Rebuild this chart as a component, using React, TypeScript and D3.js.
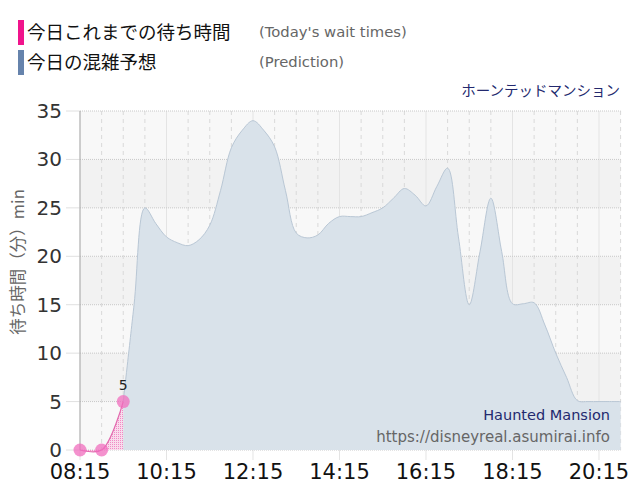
import React, { useRef, useEffect } from 'react';
import * as d3 from 'd3';

// today's actual wait times
const actualTimes = ['08:15', '08:45', '09:15'];
const actualValues = [0, 0, 5];

// prediction, every 15 minutes
const predictTimes = [
  '09:15', '09:30', '09:45',
  '10:00', '10:15', '10:30', '10:45',
  '11:00', '11:15', '11:30', '11:45',
  '12:00', '12:15', '12:30', '12:45',
  '13:00', '13:15', '13:30', '13:45',
  '14:00', '14:15', '14:30', '14:45',
  '15:00', '15:15', '15:30', '15:45',
  '16:00', '16:15', '16:30', '16:45',
  '17:00', '17:15', '17:30', '17:45',
  '18:00', '18:15', '18:30', '18:45',
  '19:00', '19:15', '19:30', '19:45',
  '20:00', '20:15', '20:30', '20:45',
];
const predictValues = [
  5, 15, 25,
  23.4, 22, 21.4, 21.1,
  21.7, 23.2, 26.8, 31.2,
  33, 34, 33, 31.3,
  26.8, 22.4, 21.9, 22.2,
  23.4, 24.1, 24.1, 24.1,
  24.5, 25, 26, 27,
  26.3, 25.2, 27.2, 29.1,
  22, 15, 20.5, 26,
  20.5, 15.1, 15.1, 15.2,
  12.9, 10, 7.5, 5.1,
  5, 5, 5, 5,
];

const xTickLabels = ['08:15', '10:15', '12:15', '14:15', '16:15', '18:15', '20:15'];
const yTicks = [0, 5, 10, 15, 20, 25, 30, 35];

const toMin = (t: string) => {
  const [h, m] = t.split(':').map(Number);
  return h * 60 + m;
};

const WIDTH = 640;
const HEIGHT = 500;
const margin = { top: 111, right: 19.4, bottom: 50, left: 80 };

type Pt = { m: number; v: number };

function WaitChart() {
  const svgRef = useRef<SVGSVGElement>(null);

  useEffect(() => {
    if (!svgRef.current) return;
    const svg = d3.select(svgRef.current);
    svg.selectAll('*').remove();

    const x = d3.scaleLinear()
      .domain([toMin('08:15'), toMin('20:45')])
      .range([margin.left, WIDTH - margin.right]);
    const y = d3.scaleLinear()
      .domain([0, 35])
      .range([HEIGHT - margin.bottom, margin.top]);

    const x0 = x.range()[0], x1 = x.range()[1];
    const yb = y(0), yt = y(35);
    const curve = d3.curveCatmullRom.alpha(0.5);

    // pink dot pattern for the actual area
    const defs = svg.append('defs');
    const pat = defs.append('pattern')
      .attr('id', 'pinkdots')
      .attr('width', 2).attr('height', 2)
      .attr('patternUnits', 'userSpaceOnUse');
    pat.append('rect').attr('width', 2).attr('height', 2).attr('fill', '#f9dcec');
    pat.append('rect').attr('width', 1).attr('height', 1).attr('fill', '#f08cc6');

    // alternating bands
    svg.append('g')
      .selectAll('rect')
      .data(d3.range(0, 35, 5))
      .enter()
      .append('rect')
      .attr('x', x0)
      .attr('width', x1 - x0)
      .attr('y', d => y(d + 5))
      .attr('height', d => y(d) - y(d + 5))
      .attr('fill', d => (d / 5) % 2 === 0 ? '#f8f8f8' : '#f2f2f2');

    // vertical grid, every 30 minutes
    const gridMins = d3.range(toMin('08:15'), toMin('20:45') + 1, 30);
    const majors = xTickLabels.map(toMin);
    svg.append('g')
      .selectAll('line')
      .data(gridMins)
      .enter()
      .append('line')
      .attr('x1', d => x(d)).attr('x2', d => x(d))
      .attr('y1', yt)
      .attr('y2', d => majors.includes(d) ? yb + 10 : yb)
      .attr('stroke', d => majors.includes(d) ? '#e4e4e4' : '#d9d9d9')
      .attr('stroke-dasharray', d => majors.includes(d) ? null : '4,4');

    // horizontal dotted grid + y ticks
    const hg = svg.append('g');
    hg.selectAll('line.grid')
      .data(yTicks)
      .enter()
      .append('line')
      .attr('class', 'grid')
      .attr('x1', x0).attr('x2', x1)
      .attr('y1', d => y(d)).attr('y2', d => y(d))
      .attr('stroke', '#c8c8c8')
      .attr('stroke-dasharray', '1,1');
    hg.selectAll('line.tick')
      .data(yTicks)
      .enter()
      .append('line')
      .attr('class', 'tick')
      .attr('x1', x0 - 14).attr('x2', x0)
      .attr('y1', d => y(d)).attr('y2', d => y(d))
      .attr('stroke', '#e0e0e0');
    hg.selectAll('text')
      .data(yTicks)
      .enter()
      .append('text')
      .attr('x', x0 - 18)
      .attr('y', d => y(d) + 7)
      .attr('text-anchor', 'end')
      .attr('font-family', 'DejaVu Sans, sans-serif')
      .attr('font-size', 20)
      .attr('fill', '#333')
      .text(d => d);

    // left axis line
    svg.append('line')
      .attr('x1', x0).attr('x2', x0)
      .attr('y1', yt).attr('y2', yb)
      .attr('stroke', '#aaa');

    // actual area (under prediction)
    const actual: Pt[] = actualTimes.map((t, i) => ({ m: toMin(t), v: actualValues[i] }));
    svg.append('path')
      .datum(actual)
      .attr('d', d3.area<Pt>()
        .x(d => x(d.m)).y0(yb).y1(d => y(d.v))
        .curve(curve))
      .attr('fill', 'url(#pinkdots)');

    // prediction area
    const pred: Pt[] = predictTimes.map((t, i) => ({ m: toMin(t), v: predictValues[i] }));
    svg.append('path')
      .datum(pred)
      .attr('d', d3.area<Pt>()
        .x(d => x(d.m)).y0(yb).y1(d => y(d.v))
        .curve(curve))
      .attr('fill', '#d9e2ea');
    svg.append('path')
      .datum(pred)
      .attr('d', d3.line<Pt>()
        .x(d => x(d.m)).y(d => y(d.v))
        .curve(curve))
      .attr('fill', 'none')
      .attr('stroke', '#b9c7d5')
      .attr('stroke-width', 1);

    // actual line + points
    svg.append('path')
      .datum(actual)
      .attr('d', d3.line<Pt>()
        .x(d => x(d.m)).y(d => y(d.v))
        .curve(curve))
      .attr('fill', 'none')
      .attr('stroke', '#e26aae')
      .attr('stroke-width', 1.2);
    svg.append('g')
      .selectAll('circle')
      .data(actual)
      .enter()
      .append('circle')
      .attr('cx', d => x(d.m))
      .attr('cy', d => y(d.v))
      .attr('r', 6.5)
      .attr('fill', 'rgba(240,110,190,0.75)');
    const last = actual[actual.length - 1];
    svg.append('text')
      .attr('x', x(last.m))
      .attr('y', y(last.v) - 12)
      .attr('text-anchor', 'middle')
      .attr('font-family', 'DejaVu Sans, sans-serif')
      .attr('font-size', 14)
      .attr('fill', '#222')
      .text(last.v);

    // x tick labels
    svg.append('g')
      .selectAll('text')
      .data(xTickLabels)
      .enter()
      .append('text')
      .attr('x', d => x(toMin(d)))
      .attr('y', 479)
      .attr('text-anchor', 'middle')
      .attr('font-family', 'DejaVu Sans, sans-serif')
      .attr('font-size', 21)
      .attr('fill', '#111')
      .text(d => d);

    // y axis title
    svg.append('text')
      .attr('transform', `translate(24,262) rotate(-90)`)
      .attr('text-anchor', 'middle')
      .attr('font-family', 'Noto Sans CJK JP, sans-serif')
      .attr('font-size', 16.5)
      .attr('fill', '#666')
      .text('待ち時間（分）min');

    // legend
    const legend = [
      { color: '#f0148c', ja: '今日これまでの待ち時間', en: "(Today's wait times)" },
      { color: '#6683ac', ja: '今日の混雑予想', en: '(Prediction)' },
    ];
    legend.forEach((l, i) => {
      const top = 20 + i * 30;
      svg.append('rect')
        .attr('x', 18).attr('y', top)
        .attr('width', 6).attr('height', 25)
        .attr('fill', l.color);
      svg.append('text')
        .attr('x', 27).attr('y', top + 19)
        .attr('font-family', 'Noto Sans CJK JP, sans-serif')
        .attr('font-size', 18.5)
        .attr('fill', '#111')
        .text(l.ja);
      svg.append('text')
        .attr('x', 259).attr('y', top + 17)
        .attr('font-family', 'DejaVu Sans, sans-serif')
        .attr('font-size', 14.8)
        .attr('fill', '#666')
        .text(l.en);
    });

    svg.append('text')
      .attr('x', 620).attr('y', 96)
      .attr('text-anchor', 'end')
      .attr('font-family', 'Noto Sans CJK JP, sans-serif')
      .attr('font-size', 14.5)
      .attr('fill', '#23296e')
      .text('ホーンテッドマンション');

    svg.append('text')
      .attr('x', 610).attr('y', 420)
      .attr('text-anchor', 'end')
      .attr('font-family', 'DejaVu Sans, sans-serif')
      .attr('font-size', 14.5)
      .attr('fill', '#23296e')
      .text('Haunted Mansion');
    svg.append('text')
      .attr('x', 610).attr('y', 442)
      .attr('text-anchor', 'end')
      .attr('font-family', 'DejaVu Sans, sans-serif')
      .attr('font-size', 15)
      .attr('fill', '#666')
      .text('https://disneyreal.asumirai.info');
  }, []);

  return <svg ref={svgRef} width={WIDTH} height={HEIGHT} style={{ display: 'block' }} />;
}

export default function App() {
  return (
    <div style={{ position: 'absolute', left: 0, top: 0, background: '#fff' }}>
      <WaitChart />
    </div>
  );
}
